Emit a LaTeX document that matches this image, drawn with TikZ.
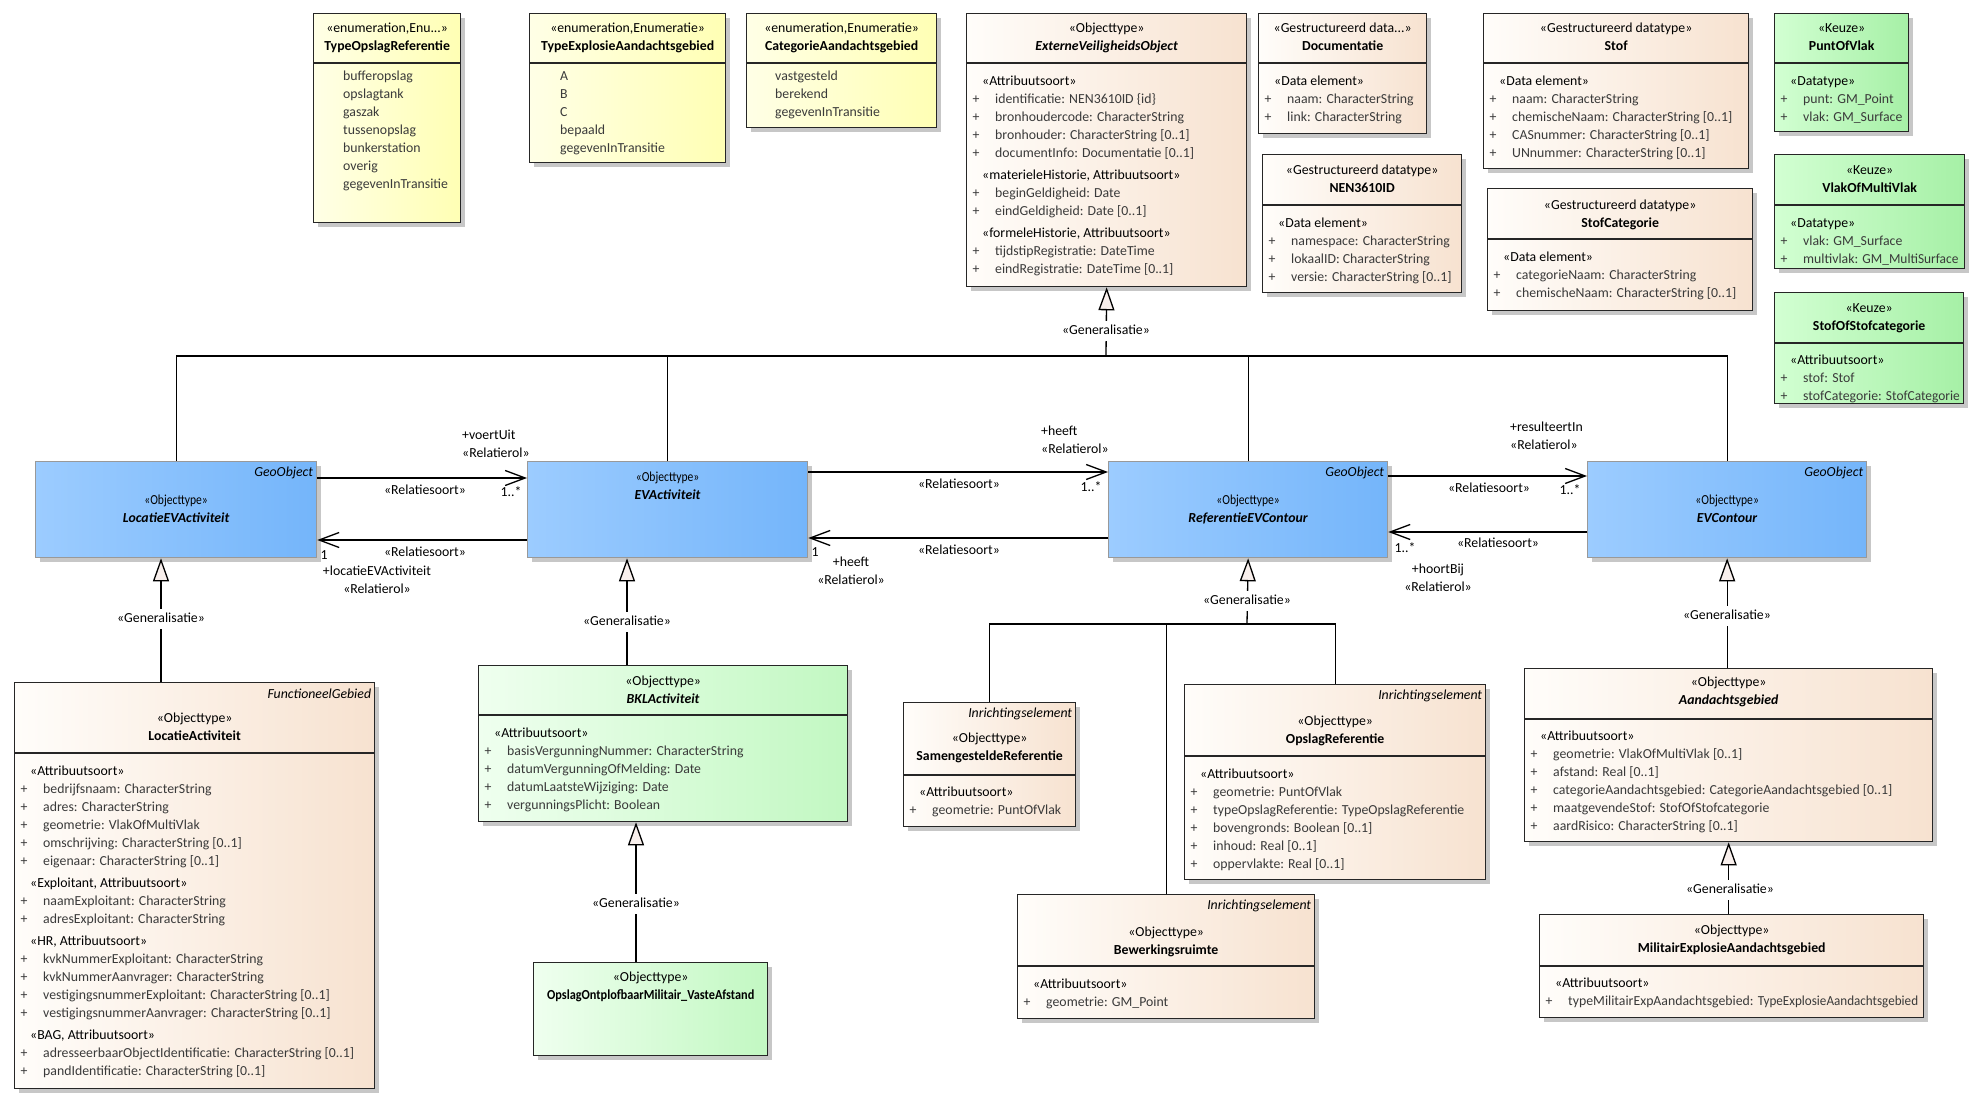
\documentclass[tikz,border=0pt]{standalone}
\usepackage{fontspec}
\setmainfont{Carlito}
\newfontfamily\narrowfont[FakeStretch=0.84]{Carlito}
\usetikzlibrary{arrows.meta,shadows,calc,positioning}

\definecolor{enumL}{HTML}{FFFFE6}
\definecolor{enumR}{HTML}{FFFFB4}
\definecolor{objL}{HTML}{FFFDFA}
\definecolor{objR}{HTML}{F7E2D0}
\definecolor{keuzeL}{HTML}{D2FFD2}
\definecolor{keuzeR}{HTML}{A6F0A6}
\definecolor{bklL}{HTML}{EFFFEF}
\definecolor{bklR}{HTML}{C2F8C2}
\definecolor{geoL}{HTML}{9CCCFF}
\definecolor{geoR}{HTML}{74B5FA}
\definecolor{genfill}{HTML}{F8EFEC}
\definecolor{attrtext}{HTML}{3A3A3A}

\newcommand{\umlhd}[2]{\strut«#1»\\\strut #2}
\newcommand{\umlgeohd}[1]{\strut{\narrowfont«Objecttype»}\\\strut\textbf{\textit{#1}}}
\newcommand{\umlst}[1]{\strut\hspace*{9.5pt}{\color{black}«#1»}}
\newcommand{\umlattr}[1]{\strut\makebox[22.5pt][l]{+}#1}
\newcommand{\umllit}[1]{\strut #1}

\tikzset{
  umlbox/.style={rectangle, draw=black!85, line width=1.3pt, inner sep=0pt,
    anchor=north west,
    drop shadow={shadow xshift=4pt, shadow yshift=-4pt, fill=black!22, opacity=1}},
  enumbox/.style={umlbox, left color=enumL, right color=enumR},
  objbox/.style={umlbox, left color=objL, right color=objR},
  keuzebox/.style={umlbox, left color=keuzeL, right color=keuzeR},
  bklbox/.style={umlbox, left color=bklL, right color=bklR},
  geobox/.style={umlbox, draw=black!40, left color=geoL, right color=geoR},
  hdtext/.style={align=center, inner sep=0pt},
  bdtext/.style={align=left, inner sep=0pt, anchor=north west, text=attrtext},
  tagtext/.style={inner sep=0pt, anchor=east, font=\fontsize{13.8}{18}\selectfont\itshape},
  divider/.style={draw=black!85, line width=1.3pt},
  assocline/.style={line width=1.3pt, -{Straight Barb[length=20pt,width=15pt]}},
  genline/.style={line width=1.3pt, line join=miter, -{Triangle[length=23pt,width=16pt,fill=genfill]}},
  treeline/.style={line width=1.3pt},
  rolelbl/.style={inner sep=0pt, align=center},
  genlbl/.style={fill=white, inner sep=1pt},
}

\begin{document}
\begin{tikzpicture}[x=1pt,y=-1pt,font=\fontsize{13.8}{18}\selectfont]
\useasboundingbox (0,0) rectangle (1986,1107);

% enumeraties
\node[enumbox, minimum width=147pt, minimum height=209pt] (typeOpslag) at (313,13) {};
\node[hdtext] (typeOpslagHd) at (typeOpslag.north |- 0,38) {\umlhd{enumeration,Enu...}{\textbf{TypeOpslagReferentie}}};
\draw[divider] (typeOpslag.west |- 0,63) -- (typeOpslag.east |- 0,63);
\node[bdtext] (typeOpslagBd) at (343,68) {\umllit{bufferopslag}\\\umllit{opslagtank}\\\umllit{gaszak}\\\umllit{tussenopslag}\\\umllit{bunkerstation}\\\umllit{overig}\\\umllit{gegevenInTransitie}};

\node[enumbox, minimum width=196pt, minimum height=149pt] (typeExpl) at (529,13) {};
\node[hdtext] (typeExplHd) at (typeExpl.north |- 0,38) {\umlhd{enumeration,Enumeratie}{\textbf{TypeExplosieAandachtsgebied}}};
\draw[divider] (typeExpl.west |- 0,63) -- (typeExpl.east |- 0,63);
\node[bdtext] (typeExplBd) at (560,68) {\umllit{A}\\\umllit{B}\\\umllit{C}\\\umllit{bepaald}\\\umllit{gegevenInTransitie}};

\node[enumbox, minimum width=190pt, minimum height=114pt] (catAandacht) at (746,13) {};
\node[hdtext] (catAandachtHd) at (catAandacht.north |- 0,38) {\umlhd{enumeration,Enumeratie}{\textbf{CategorieAandachtsgebied}}};
\draw[divider] (catAandacht.west |- 0,63) -- (catAandacht.east |- 0,63);
\node[bdtext] (catAandachtBd) at (775,68) {\umllit{vastgesteld}\\\umllit{berekend}\\\umllit{gegevenInTransitie}};

% ExterneVeiligheidsObject en datatypen
\node[objbox, minimum width=280pt, minimum height=273pt] (evo) at (966,13) {};
\node[hdtext] (evoHd) at (evo.north |- 0,38) {\umlhd{Objecttype}{\textbf{\textit{ExterneVeiligheidsObject}}}};
\draw[divider] (evo.west |- 0,63) -- (evo.east |- 0,63);
\node[bdtext] (evoBd) at (972.5,73) {\umlst{Attribuutsoort}\\
  \umlattr{identificatie: NEN3610ID \{id\}}\\
  \umlattr{bronhoudercode: CharacterString}\\
  \umlattr{bronhouder: CharacterString [0..1]}\\
  \umlattr{documentInfo: Documentatie [0..1]}\\[4pt]
  \umlst{materieleHistorie, Attribuutsoort}\\
  \umlattr{beginGeldigheid: Date}\\
  \umlattr{eindGeldigheid: Date [0..1]}\\[4pt]
  \umlst{formeleHistorie, Attribuutsoort}\\
  \umlattr{tijdstipRegistratie: DateTime}\\
  \umlattr{eindRegistratie: DateTime [0..1]}};

\node[objbox, minimum width=168pt, minimum height=120pt] (doc) at (1258,13) {};
\node[hdtext] (docHd) at (doc.north |- 0,38) {\umlhd{Gestructureerd data...}{\textbf{Documentatie}}};
\draw[divider] (doc.west |- 0,63) -- (doc.east |- 0,63);
\node[bdtext] (docBd) at (1264.5,73) {\umlst{Data element}\\\umlattr{naam: CharacterString}\\\umlattr{link: CharacterString}};

\node[objbox, minimum width=199pt, minimum height=138pt] (nen) at (1262,154) {};
\node[hdtext] (nenHd) at (nen.north |- 0,179.5) {\umlhd{Gestructureerd datatype}{\textbf{NEN3610ID}}};
\draw[divider] (nen.west |- 0,205) -- (nen.east |- 0,205);
\node[bdtext] (nenBd) at (1268.5,215) {\umlst{Data element}\\\umlattr{namespace: CharacterString}\\\umlattr{lokaalID: CharacterString}\\\umlattr{versie: CharacterString [0..1]}};

\node[objbox, minimum width=265pt, minimum height=155pt] (stof) at (1483,13) {};
\node[hdtext] (stofHd) at (stof.north |- 0,38) {\umlhd{Gestructureerd datatype}{\textbf{Stof}}};
\draw[divider] (stof.west |- 0,63) -- (stof.east |- 0,63);
\node[bdtext] (stofBd) at (1489.5,73) {\umlst{Data element}\\\umlattr{naam: CharacterString}\\\umlattr{chemischeNaam: CharacterString [0..1]}\\\umlattr{CASnummer: CharacterString [0..1]}\\\umlattr{UNnummer: CharacterString [0..1]}};

\node[objbox, minimum width=265pt, minimum height=122pt] (stofCat) at (1487,188) {};
\node[hdtext] (stofCatHd) at (stofCat.north |- 0,214.5) {\umlhd{Gestructureerd datatype}{\textbf{StofCategorie}}};
\draw[divider] (stofCat.west |- 0,239) -- (stofCat.east |- 0,239);
\node[bdtext] (stofCatBd) at (1493.5,249) {\umlst{Data element}\\\umlattr{categorieNaam: CharacterString}\\\umlattr{chemischeNaam: CharacterString [0..1]}};

% keuzes
\node[keuzebox, minimum width=134pt, minimum height=118pt] (puntOfVlak) at (1774,13) {};
\node[hdtext] (puntOfVlakHd) at (puntOfVlak.north |- 0,38) {\umlhd{Keuze}{\textbf{PuntOfVlak}}};
\draw[divider] (puntOfVlak.west |- 0,63) -- (puntOfVlak.east |- 0,63);
\node[bdtext] (puntOfVlakBd) at (1780.5,73) {\umlst{Datatype}\\\umlattr{punt: GM\_Point}\\\umlattr{vlak: GM\_Surface}};

\node[keuzebox, minimum width=190pt, minimum height=114pt] (vlakOfMulti) at (1774,154) {};
\node[hdtext] (vlakOfMultiHd) at (vlakOfMulti.north |- 0,179.5) {\umlhd{Keuze}{\textbf{VlakOfMultiVlak}}};
\draw[divider] (vlakOfMulti.west |- 0,205) -- (vlakOfMulti.east |- 0,205);
\node[bdtext] (vlakOfMultiBd) at (1780.5,215) {\umlst{Datatype}\\\umlattr{vlak: GM\_Surface}\\\umlattr{multivlak: \scalebox{0.97}[1]{GM\_MultiSurface}}};

\node[keuzebox, minimum width=189pt, minimum height=111pt] (stofOfCat) at (1774,292) {};
\node[hdtext] (stofOfCatHd) at (stofOfCat.north |- 0,317.5) {\umlhd{Keuze}{\textbf{StofOfStofcategorie}}};
\draw[divider] (stofOfCat.west |- 0,343) -- (stofOfCat.east |- 0,343);
\node[bdtext] (stofOfCatBd) at (1780.5,352) {\umlst{Attribuutsoort}\\\umlattr{stof: Stof}\\\umlattr{stofCategorie: \scalebox{0.97}[1]{StofCategorie}}};

% GeoObjecten
\node[geobox, minimum width=281pt, minimum height=96pt] (locEV) at (35,461) {};
\node[tagtext] (locEVTag) at ($(locEV.north east)+(-4,12)$) {GeoObject};
\node[hdtext] (locEVHd) at (locEV.center) {\umlgeohd{LocatieEVActiviteit}};

\node[geobox, minimum width=280pt, minimum height=96pt] (evAct) at (527,461) {};
\node[hdtext] (evActHd) at (evAct.north |- 0,487) {\umlgeohd{EVActiviteit}};

\node[geobox, minimum width=279pt, minimum height=96pt] (refEV) at (1108,461) {};
\node[tagtext] (refEVTag) at ($(refEV.north east)+(-4,12)$) {GeoObject};
\node[hdtext] (refEVHd) at (refEV.center) {\umlgeohd{ReferentieEVContour}};

\node[geobox, minimum width=279pt, minimum height=96pt] (evContour) at (1587,461) {};
\node[tagtext] (evContourTag) at ($(evContour.north east)+(-4,12)$) {GeoObject};
\node[hdtext] (evContourHd) at (evContour.center) {\umlgeohd{EVContour}};

% onderste rij
\node[objbox, minimum width=360pt, minimum height=406pt] (locAct) at (14,682) {};
\node[tagtext] (locActTag) at ($(locAct.north east)+(-4,12)$) {FunctioneelGebied};
\node[hdtext] (locActHd) at (locAct.north |- 0,728) {\umlhd{Objecttype}{\textbf{LocatieActiviteit}}};
\draw[divider] (locAct.west |- 0,753) -- (locAct.east |- 0,753);
\node[bdtext] (locActBd) at (20.5,763) {\umlst{Attribuutsoort}\\
  \umlattr{bedrijfsnaam: CharacterString}\\
  \umlattr{adres: CharacterString}\\
  \umlattr{geometrie: VlakOfMultiVlak}\\
  \umlattr{omschrijving: CharacterString [0..1]}\\
  \umlattr{eigenaar: CharacterString [0..1]}\\[4pt]
  \umlst{Exploitant, Attribuutsoort}\\
  \umlattr{naamExploitant: CharacterString}\\
  \umlattr{adresExploitant: CharacterString}\\[4pt]
  \umlst{HR, Attribuutsoort}\\
  \umlattr{kvkNummerExploitant: CharacterString}\\
  \umlattr{kvkNummerAanvrager: CharacterString}\\
  \umlattr{vestigingsnummerExploitant: CharacterString [0..1]}\\
  \umlattr{vestigingsnummerAanvrager: CharacterString [0..1]}\\[4pt]
  \umlst{BAG, Attribuutsoort}\\
  \umlattr{adresseerbaarObjectIdentificatie: CharacterString [0..1]}\\
  \umlattr{pandIdentificatie: CharacterString [0..1]}};

\node[bklbox, minimum width=369pt, minimum height=156pt] (bkl) at (478,665) {};
\node[hdtext] (bklHd) at (bkl.north |- 0,690.5) {\umlhd{Objecttype}{\textbf{\textit{BKLActiviteit}}}};
\draw[divider] (bkl.west |- 0,715) -- (bkl.east |- 0,715);
\node[bdtext] (bklBd) at (484.5,725) {\umlst{Attribuutsoort}\\
  \umlattr{basisVergunningNummer: CharacterString}\\
  \umlattr{datumVergunningOfMelding: Date}\\
  \umlattr{datumLaatsteWijziging: Date}\\
  \umlattr{vergunningsPlicht: Boolean}};

\node[bklbox, minimum width=234pt, minimum height=93pt] (opslagMil) at (533,962) {};
\node[hdtext] (opslagMilHd) at (opslagMil.north |- 0,986.5) {\umlhd{Objecttype}{\scalebox{0.89}[1]{\textbf{OpslagOntplofbaarMilitair\_VasteAfstand}}}};

\node[objbox, minimum width=172pt, minimum height=124pt] (samen) at (903,702) {};
\node[tagtext] (samenTag) at ($(samen.north east)+(-4,12)$) {Inrichtingselement};
\node[hdtext] (samenHd) at (samen.north |- 0,748) {\umlhd{Objecttype}{\textbf{SamengesteldeReferentie}}};
\draw[divider] (samen.west |- 0,775) -- (samen.east |- 0,775);
\node[bdtext] (samenBd) at (909.5,784) {\umlst{Attribuutsoort}\\\umlattr{geometrie: PuntOfVlak}};

\node[objbox, minimum width=301pt, minimum height=195pt] (opslagRef) at (1184,684) {};
\node[tagtext] (opslagRefTag) at ($(opslagRef.north east)+(-4,12)$) {Inrichtingselement};
\node[hdtext] (opslagRefHd) at (opslagRef.north |- 0,730.5) {\umlhd{Objecttype}{\textbf{OpslagReferentie}}};
\draw[divider] (opslagRef.west |- 0,756) -- (opslagRef.east |- 0,756);
\node[bdtext] (opslagRefBd) at (1190.5,766) {\umlst{Attribuutsoort}\\
  \umlattr{geometrie: PuntOfVlak}\\
  \umlattr{typeOpslagReferentie: TypeOpslagReferentie}\\
  \umlattr{bovengronds: Boolean [0..1]}\\
  \umlattr{inhoud: Real [0..1]}\\
  \umlattr{oppervlakte: Real [0..1]}};

\node[objbox, minimum width=297pt, minimum height=124pt] (bewerk) at (1017,894) {};
\node[tagtext] (bewerkTag) at ($(bewerk.north east)+(-4,12)$) {Inrichtingselement};
\node[hdtext] (bewerkHd) at (bewerk.north |- 0,942) {\umlhd{Objecttype}{\textbf{Bewerkingsruimte}}};
\draw[divider] (bewerk.west |- 0,966) -- (bewerk.east |- 0,966);
\node[bdtext] (bewerkBd) at (1023.5,976) {\umlst{Attribuutsoort}\\\umlattr{geometrie: GM\_Point}};

\node[objbox, minimum width=408pt, minimum height=173pt] (aandacht) at (1524,668) {};
\node[hdtext] (aandachtHd) at (aandacht.north |- 0,692) {\umlhd{Objecttype}{\textbf{\textit{Aandachtsgebied}}}};
\draw[divider] (aandacht.west |- 0,719) -- (aandacht.east |- 0,719);
\node[bdtext] (aandachtBd) at (1530.5,728) {\umlst{Attribuutsoort}\\
  \umlattr{geometrie: VlakOfMultiVlak [0..1]}\\
  \umlattr{afstand: Real [0..1]}\\
  \umlattr{categorieAandachtsgebied: CategorieAandachtsgebied [0..1]}\\
  \umlattr{maatgevendeStof: StofOfStofcategorie}\\
  \umlattr{aardRisico: CharacterString [0..1]}};

\node[objbox, minimum width=384pt, minimum height=103pt] (milExpl) at (1539,914) {};
\node[hdtext] (milExplHd) at (milExpl.north |- 0,939.5) {\umlhd{Objecttype}{\textbf{MilitairExplosieAandachtsgebied}}};
\draw[divider] (milExpl.west |- 0,966) -- (milExpl.east |- 0,966);
\node[bdtext] (milExplBd) at (1545.5,975) {\umlst{Attribuutsoort}\\\umlattr{typeMilitairExpAandachtsgebied: \scalebox{0.95}[1]{TypeExplosieAandachtsgebied}}};

% relaties
\draw[assocline] (locEV.east |- 0,478) -- (evAct.west |- 0,478);
\draw[assocline] (evAct.west |- 0,540) -- (locEV.east |- 0,540);
\draw[assocline] (evAct.east |- 0,472) -- (refEV.west |- 0,472);
\draw[assocline] (refEV.west |- 0,538) -- (evAct.east |- 0,538);
\draw[assocline] (refEV.east |- 0,476) -- (evContour.west |- 0,476);
\draw[assocline] (evContour.west |- 0,532) -- (refEV.east |- 0,532);

\node[rolelbl, anchor=west, align=left] (voertUitRol) at (462,445) {\strut+voertUit\\\strut«Relatierol»};
\node[rolelbl] (rsA) at (425,491) {\strut«Relatiesoort»};
\node[rolelbl] (multA) at (511,493) {\strut1..*};
\node[rolelbl] (rsB) at (425,553) {\strut«Relatiesoort»};
\node[rolelbl] (multB) at (324,556) {\strut1};
\node[rolelbl] (locEVRol) at (377,581) {\strut+locatieEVActiviteit\\\strut«Relatierol»};

\node[rolelbl, anchor=west, align=left] (heeftRolA) at (1041,441) {\strut+heeft\\\strut«Relatierol»};
\node[rolelbl] (rsC) at (959,485) {\strut«Relatiesoort»};
\node[rolelbl] (multC) at (1091,488) {\strut1..*};
\node[rolelbl] (rsD) at (959,551) {\strut«Relatiesoort»};
\node[rolelbl] (multD) at (815,553) {\strut1};
\node[rolelbl] (heeftRolB) at (851,572) {\strut+heeft\\\strut«Relatierol»};

\node[rolelbl, anchor=west, align=left] (resultRol) at (1510,437) {\strut+resulteertIn\\\strut«Relatierol»};
\node[rolelbl] (rsE) at (1489,489) {\strut«Relatiesoort»};
\node[rolelbl] (multE) at (1570,491) {\strut1..*};
\node[rolelbl] (rsF) at (1498,544) {\strut«Relatiesoort»};
\node[rolelbl] (multF) at (1405,549) {\strut1..*};
\node[rolelbl] (hoortBijRol) at (1438,579) {\strut+hoortBij\\\strut«Relatierol»};

% generalisaties
\coordinate (evoJoin) at (1106,356);
\draw[treeline] (locEV.north) |- (evContour.north |- evoJoin) -- (evContour.north);
\draw[treeline] (evAct.north) -- (evAct.north |- evoJoin);
\draw[treeline] (refEV.north) -- (refEV.north |- evoJoin);
\draw[genline] (evoJoin) -- (evo.south);
\node[genlbl] (genEvo) at (1106,331) {\strut«Generalisatie»};

\coordinate (refJoin) at (1247,624);
\draw[treeline] (samen.north) |- (opslagRef.north |- refJoin) -- (opslagRef.north);
\draw[treeline] (bewerk.north) -- (bewerk.north |- refJoin);
\draw[genline] (refJoin) -- (refEV.south);
\node[genlbl] (genRef) at (1247,601) {\strut«Generalisatie»};

\draw[genline] (locAct.north -| 161,0) -- (locEV.south -| 161,0);
\node[genlbl] (genLoc) at (161,619) {\strut«Generalisatie»};

\draw[genline] (bkl.north -| 627,0) -- (evAct.south -| 627,0);
\node[genlbl] (genBkl) at (627,622) {\strut«Generalisatie»};

\draw[genline] (opslagMil.north -| 636,0) -- (bkl.south -| 636,0);
\node[genlbl] (genOpslagMil) at (636,904) {\strut«Generalisatie»};

\draw[genline] (aandacht.north -| evContour.south) -- (evContour.south);
\node[genlbl] (genAandacht) at (1727,616) {\strut«Generalisatie»};

\draw[genline] (milExpl.north -| aandacht.south) -- (aandacht.south);
\node[genlbl] (genMil) at (1730,890) {\strut«Generalisatie»};
\end{tikzpicture}
\end{document}
